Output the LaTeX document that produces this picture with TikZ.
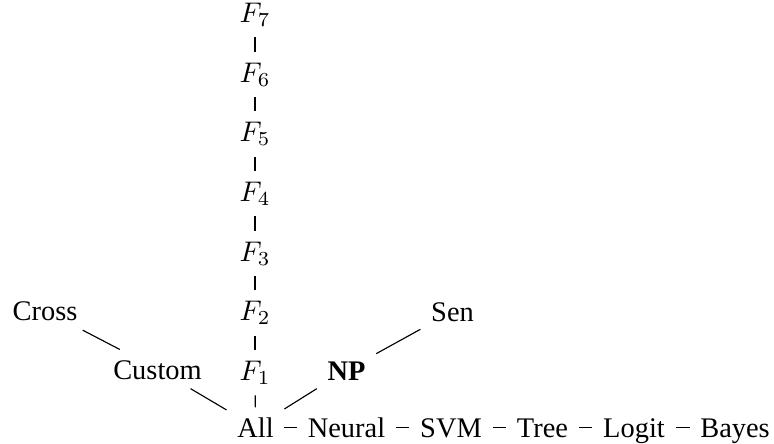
\documentclass[tikz,border=0pt]{standalone}
\usepackage{fontspec}
\setmainfont{Liberation Serif}
\begin{document}
\begin{tikzpicture}[x=0.352pt,y=-0.352pt,
  word/.style={anchor=base,inner xsep=0.36em,inner ysep=0.32em,text height=0.7em,text depth=0pt},
  feat/.style={anchor=base,inner xsep=0.333em,inner ysep=0.37em},
  link/.style={line width=0.4pt}]
\useasboundingbox (0,0) rectangle (774,443);
% bottom row: models
\node[word] (all)    at (255.5,437) {All};
\node[word] (neural) at (346.5,437) {Neural};
\node[word] (svm)    at (451,437)   {SVM};
\node[word] (tree)   at (542.5,437) {Tree};
\node[word] (logit)  at (634,437)   {Logit};
\node[word] (bayes)  at (735,437)   {Bayes};
% left branch
\node[word] (custom) at (157.5,379) {Custom};
\node[word] (cross)  at (45,320.5)  {Cross};
% right branch
\node[word] (np)     at (346.5,380) {\textbf{NP}};
\node[word] (sen)    at (452.5,321.5) {Sen};
% feature column
\node[feat] (f1) at (255,380)   {$F_1$};
\node[feat] (f2) at (255,320.5) {$F_2$};
\node[feat] (f3) at (255,261)   {$F_3$};
\node[feat] (f4) at (255,201)   {$F_4$};
\node[feat] (f5) at (255,141.5) {$F_5$};
\node[feat] (f6) at (255,82)    {$F_6$};
\node[feat] (f7) at (255,22)    {$F_7$};
% connectors
\draw[link] (all) -- (neural);
\draw[link] (neural) -- (svm);
\draw[link] (svm) -- (tree);
\draw[link] (tree) -- (logit);
\draw[link] (logit) -- (bayes);
\draw[link] (all) -- (custom);
\draw[link] (custom) -- (cross);
\draw[link] (all) -- (np);
\draw[link] (np) -- (sen);
\draw[link] (all) -- (f1);
\draw[link] (f1) -- (f2);
\draw[link] (f2) -- (f3);
\draw[link] (f3) -- (f4);
\draw[link] (f4) -- (f5);
\draw[link] (f5) -- (f6);
\draw[link] (f6) -- (f7);
\end{tikzpicture}
\end{document}
